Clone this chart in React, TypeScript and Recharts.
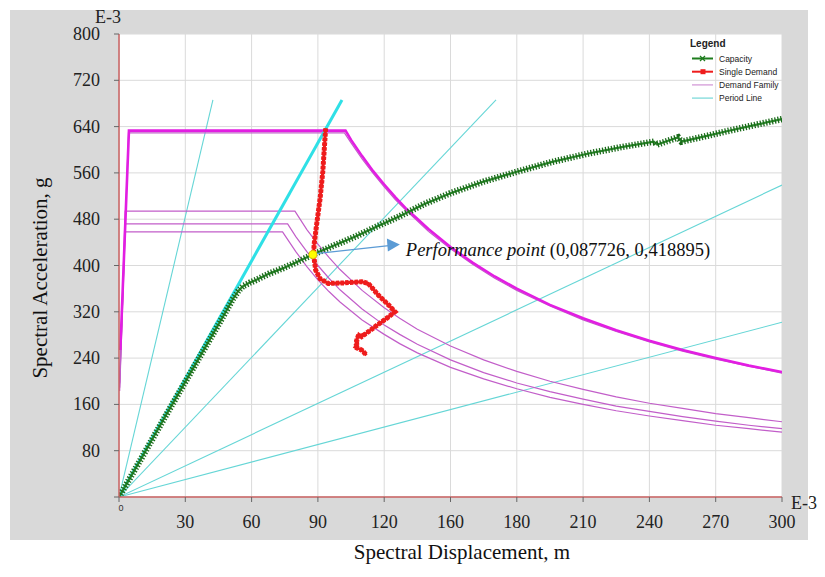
import { CartesianGrid, ComposedChart, Line, ReferenceDot, XAxis, YAxis } from 'recharts';

// axis ticks (labels copied as printed on the original, incl. the odd "160")
const xTicks = [0, 30, 60, 90, 120, 150, 180, 210, 240, 270, 300];
const xTickLabels = ['0', '30', '60', '90', '120', '160', '180', '210', '240', '270', '300'];
const yTicks = [0, 80, 160, 240, 320, 400, 480, 560, 640, 720, 800];

// capacity curve (Sd, Sa in E-3)
const capacitySd = [0, 10, 20, 30, 40, 45, 48, 51.7, 54, 56, 59, 62, 68, 74, 80, 87.7, 97, 107, 117, 127, 138, 150, 165, 180, 196, 213, 228, 242, 243.5, 253, 254.5, 265, 275, 288, 300];
const capacitySa = [0, 66, 133, 199, 265, 298, 318, 343, 356, 364, 370, 375, 386, 395, 405, 418.9, 434, 450, 468, 485, 506, 525, 545, 562, 579, 594, 605, 614, 609, 621.5, 614, 623, 632, 643, 653];

// single demand
const singleSd = [93.5, 92.9, 92.2, 91, 89.4, 88.4, 88, 89, 91, 94.7, 102.3, 109.8, 112.8, 117.3, 121.9, 124.9, 121.9, 115.8, 109.8, 108.5, 107.5, 108, 106.8, 109.8, 112];
const singleSa = [637, 602, 562, 516, 470, 440, 420, 392, 377, 369, 370, 372, 369, 349, 332, 320, 311, 294, 277, 281, 270, 266, 259, 254, 245];

// demand family
const demandMainSd = [0.6, 4.5, 102.5, 105, 110, 115, 120, 125, 130, 140, 150, 160, 170, 180, 195, 210, 225, 240, 255, 270, 285, 300];
const demandMainSa = [254, 633, 633, 617, 589, 563, 540, 518, 498, 463, 432, 405, 381, 360, 332, 309, 288, 270, 254, 240, 227, 216];
const demandASd = [0.3, 4.3, 102, 105, 110, 115, 120, 125, 130, 140, 150, 160, 170, 180, 195, 210, 225, 240, 255, 270, 285, 300];
const demandASa = [196, 629, 629, 612, 584, 559, 536, 514, 495, 459, 429, 402, 378, 357, 330, 306, 286, 268, 252, 238, 226, 214];
const demandBSd = [0.3, 2.8, 79.6, 85, 90, 95, 100, 110, 120, 127, 135, 150, 165, 180, 195, 210, 225, 240, 255, 270, 285, 300];
const demandBSa = [198, 494, 494, 462, 437, 414, 393, 357, 327, 309, 290, 261, 237, 217, 200, 186, 173, 162, 153, 144, 137, 130];
const demandCSd = [0.3, 2.8, 76.3, 80, 85, 90, 95, 100, 110, 120, 127, 135, 150, 165, 180, 195, 210, 225, 240, 255, 270, 285, 300];
const demandCSa = [189, 472, 472, 450, 424, 400, 378, 358, 325, 297, 281, 264, 237, 215, 197, 182, 169, 157, 148, 139, 131, 124, 118];
const demandDSd = [0.3, 2.8, 74, 80, 85, 90, 95, 100, 110, 120, 127, 135, 150, 165, 180, 195, 210, 225, 240, 255, 270, 285, 300];
const demandDSa = [183, 458, 458, 424, 398, 375, 355, 337, 306, 281, 265, 249, 224, 204, 187, 172, 160, 149, 140, 132, 124, 118, 112];

// period lines, all from the origin
const periodEndSd = [42.5, 100.9, 170.6, 300, 300];
const periodEndSa = [686, 686, 686, 539, 302];
const thickPeriod = 1;

const perfSd = 87.726;
const perfSa = 418.895;

const legendNames = ['Capacity', 'Single Demand', 'Demand Family', 'Period Line'];
const legendColors = ['#1e7d1e', '#ee1c1c', '#d49bd8', '#7fdada'];

const SERIF = "'Liberation Serif', 'DejaVu Serif', serif";
const SANS = "'Liberation Sans', Arial, sans-serif";

const pts = (xs: number[], ys: number[]) => xs.map((x, i) => ({ x, y: ys[i] }));

const capacity = pts(capacitySd, capacitySa);
const single = pts(singleSd, singleSa);
const thinDemands = [pts(demandASd, demandASa), pts(demandBSd, demandBSa), pts(demandCSd, demandCSa), pts(demandDSd, demandDSa)];
const mainDemand = pts(demandMainSd, demandMainSa);
const periods = periodEndSd.map((sd, i) => [{ x: 0, y: 0 }, { x: sd, y: periodEndSa[i] }]);

const XTick = (props: any) => {
    const { x, y, payload } = props;
    const label = xTickLabels[xTicks.indexOf(payload.value)];
    if (payload.value === 0) {
        return (
            <text x={x + 2} y={y + 9} textAnchor="middle" fontSize={9} fontFamily={SANS} fill="#333">
                {label}
            </text>
        );
    }
    return (
        <text x={x} y={y + 26} textAnchor="middle" fontSize={18} fontFamily={SERIF} fill="#222">
            {label}
        </text>
    );
};

const YTick = (props: any) => {
    const { x, y, payload } = props;
    if (payload.value === 0) return <g />;
    return (
        <text x={x} y={y + 6} textAnchor="end" fontSize={18} fontFamily={SERIF} fill="#222">
            {payload.value}
        </text>
    );
};

const PerfMarker = (props: any) => {
    const { cx, cy } = props;
    return (
        <g>
            <line x1={cx + 3} y1={cy - 1} x2={cx + 76} y2={cy - 9} stroke="#5b9bd5" strokeWidth={1.2} />
            <polygon points={`${cx + 87},${cy - 10} ${cx + 74},${cy - 16} ${cx + 75},${cy - 3}`} fill="#5b9bd5" />
            <circle cx={cx} cy={cy} r={4} fill="#ffff00" stroke="#e6d200" strokeWidth={1} />
            <text x={cx + 93} y={cy + 1} fontSize={18.5} fontFamily={SERIF} fill="#111">
                <tspan fontStyle="italic">Performance point</tspan>
                <tspan> (0,087726, 0,418895)</tspan>
            </text>
        </g>
    );
};

export default function App() {
    return (
        <div style={{ position: 'absolute', left: 0, top: 0, width: 825, height: 577, background: '#ffffff', overflow: 'hidden' }}>
            <div style={{ position: 'absolute', left: 10, top: 10, width: 798, height: 530, background: '#d9d9d9' }} />
            <div style={{ position: 'absolute', left: 0, top: 0 }}>
                <ComposedChart width={825} height={577} margin={{ top: 34, right: 43, bottom: 40, left: 59 }}>
                    <CartesianGrid stroke="#dadada" fill="#ffffff" />
                    <XAxis
                        type="number"
                        dataKey="x"
                        domain={[0, 300]}
                        ticks={xTicks}
                        allowDataOverflow
                        height={40}
                        axisLine={{ stroke: '#c86060', strokeWidth: 1.5 }}
                        tickLine={{ stroke: '#666' }}
                        tickSize={5}
                        tickMargin={0}
                        tick={<XTick />}
                    />
                    <YAxis
                        type="number"
                        dataKey="y"
                        domain={[0, 800]}
                        ticks={yTicks}
                        allowDataOverflow
                        width={60}
                        axisLine={{ stroke: '#c86060', strokeWidth: 1.5 }}
                        tickLine={{ stroke: '#666' }}
                        tickSize={5}
                        tickMargin={14}
                        tick={<YTick />}
                    />
                    {periods.map((d, i) =>
                        i === thickPeriod ? null : (
                            <Line key={`p${i}`} data={d} dataKey="y" type="linear" stroke="#66d6d6" strokeWidth={1.1} dot={false} activeDot={false} isAnimationActive={false} />
                        )
                    )}
                    {thinDemands.map((d, i) => (
                        <Line key={`d${i}`} data={d} dataKey="y" type="linear" stroke="#c25ec9" strokeWidth={1.2} dot={false} activeDot={false} isAnimationActive={false} />
                    ))}
                    <Line data={mainDemand} dataKey="y" type="linear" stroke="#e21ee2" strokeWidth={2.6} dot={false} activeDot={false} isAnimationActive={false} />
                    <Line data={periods[thickPeriod]} dataKey="y" type="linear" stroke="#2fe0e6" strokeWidth={3} dot={false} activeDot={false} isAnimationActive={false} />
                    <Line data={capacity} dataKey="y" type="linear" stroke="#2a8a2a" strokeWidth={2.2} dot={false} activeDot={false} isAnimationActive={false} />
                    <Line data={capacity} dataKey="y" type="linear" stroke="#1a6a1a" strokeWidth={6.5} strokeDasharray="1.3 1.7" dot={false} activeDot={false} isAnimationActive={false} />
                    <Line data={single} dataKey="y" type="linear" stroke="#ee1c1c" strokeWidth={3} dot={false} activeDot={false} isAnimationActive={false} />
                    <Line data={single} dataKey="y" type="linear" stroke="#ee1c1c" strokeWidth={5} strokeDasharray="3.5 1.2" dot={false} activeDot={false} isAnimationActive={false} />
                    <ReferenceDot x={perfSd} y={perfSa} r={4} ifOverflow="visible" shape={(p: any) => <PerfMarker {...p} />} />
                </ComposedChart>
            </div>
            <svg width={825} height={577} style={{ position: 'absolute', left: 0, top: 0, pointerEvents: 'none' }}>
                <text x={108} y={23} textAnchor="middle" fontSize={18} fontFamily={SERIF} fill="#222">E-3</text>
                <text x={804} y={509} textAnchor="middle" fontSize={18} fontFamily={SERIF} fill="#222">E-3</text>
                <text x={462} y={559} textAnchor="middle" fontSize={21} fontFamily={SERIF} fill="#111">Spectral Displacement, m</text>
                <text x={47} y={278} textAnchor="middle" fontSize={21} fontFamily={SERIF} fill="#111" transform="rotate(-90 47 278)">Spectral Acceleration, g</text>
                <text x={690} y={47} fontSize={10} fontWeight="bold" fontFamily={SANS} fill="#222">Legend</text>
                {legendNames.map((name, i) => {
                    const y = 58.5 + i * 13.2;
                    return (
                        <g key={name}>
                            <line x1={692} x2={713} y1={y} y2={y} stroke={legendColors[i]} strokeWidth={i < 2 ? 2 : 1.3} />
                            {i === 0 && (
                                <path d={`M700,${y - 2.5} L705,${y + 2.5} M700,${y + 2.5} L705,${y - 2.5}`} stroke={legendColors[i]} strokeWidth={1.3} />
                            )}
                            {i === 1 && <rect x={700.5} y={y - 2.5} width={5} height={5} fill={legendColors[i]} />}
                            <text x={719} y={y + 3} fontSize={8.5} fontFamily={SANS} fill="#222">{name}</text>
                        </g>
                    );
                })}
            </svg>
        </div>
    );
}
